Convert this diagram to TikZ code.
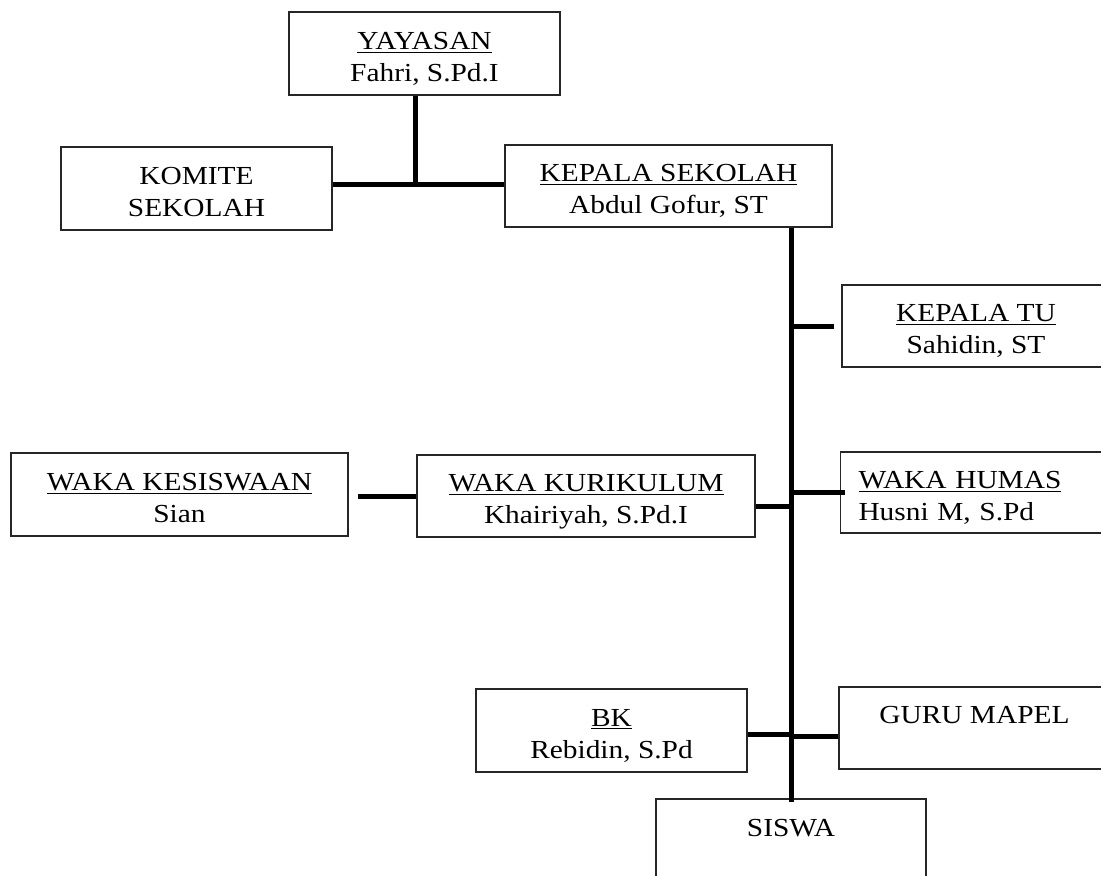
\documentclass[tikz,border=0pt]{standalone}
\usepackage{fontspec}
\setmainfont{Liberation Serif}[FakeStretch=1.13]
\newcommand{\twoline}[2]{\rule{0pt}{16.3pt}#1\\#2\strut}

\begin{document}
\begin{tikzpicture}
    [x=0.5pt,y=-0.5pt,line cap=butt,
    % Styles
    box/.style={draw=boxcolor, line width=0.6pt, align=center, inner sep=0pt,
        minimum width=135.5pt, minimum height=41.5pt,
        font=\fontsize{13pt}{16pt}\selectfont},
    link/.style={line width=2.5pt, draw=linkcolor}]

    % Colors
    \colorlet{boxcolor}{black!85}
    \colorlet{linkcolor}{black}

    \useasboundingbox (0,0) rectangle (1101,875);

    % Nodes
    \node[box] (yayasan) at (424.5,53.5) {\twoline{\underline{YAYASAN}}{Fahri, S.Pd.I}};
    \node[box] (komite) at (196.5,188.5) {\twoline{KOMITE}{SEKOLAH}};
    \node[box, minimum width=163.5pt, minimum height=41pt] (kepsek) at (668.5,186)
        {\twoline{\underline{KEPALA SEKOLAH}}{Abdul Gofur, ST}};
    \node[box, minimum width=134pt, minimum height=41pt] (kepalatu) at (976,326)
        {\twoline{\underline{KEPALA TU}}{Sahidin, ST}};
    \node[box, align=left, text width=117.5pt, inner xsep=8.5pt, minimum height=40.5pt] (humas) at (976,492.5)
        {\twoline{\underline{WAKA HUMAS}}{Husni M, S.Pd}};
    \node[box, minimum width=169pt, minimum height=41pt] (kurikulum) at (586,496)
        {\twoline{\underline{WAKA KURIKULUM}}{Khairiyah, S.Pd.I}};
    \node[box, minimum width=168.5pt] (kesiswaan) at (179.5,494.5)
        {\twoline{\underline{WAKA KESISWAAN}}{Sian}};
    \node[box] (bk) at (611.5,730.5) {\twoline{\underline{BK}}{Rebidin, S.Pd}};
    \node[box, minimum height=41pt] (guru) at (974.5,728) {\twoline{GURU MAPEL}{}};
    \node[box, minimum width=135pt] (siswa) at (791,840.5) {\twoline{SISWA}{}};

    % Coordinates
    \coordinate (fork) at (415,184);
    \coordinate (spine top) at (kepsek.south -| siswa.north);

    % Graphic
    \draw[link] (komite.east |- fork) -- (kepsek.west |- fork);
    \draw[link] (yayasan.south -| fork) -- (fork);
    \draw[link] (spine top) -- ([yshift=-2pt]siswa.north);

    \draw[link] ([xshift=-3.5pt]kepalatu.west) -- (kepalatu.west -| spine top);
    \draw[link] ([xshift=2.5pt]humas.west) -- (humas.west -| spine top);
    \draw[link] ([yshift=-5pt]kurikulum.east) -- ([yshift=-5pt]kurikulum.east -| spine top);
    \draw[link] ([xshift=4.5pt]kesiswaan.east |- kurikulum.west) -- (kurikulum.west);
    \draw[link] ([yshift=-2pt]bk.east) -- ([yshift=-2pt]bk.east -| spine top);
    \draw[link] ([yshift=-4pt]guru.west) -- ([yshift=-4pt]guru.west -| spine top);

\end{tikzpicture}
\end{document}
